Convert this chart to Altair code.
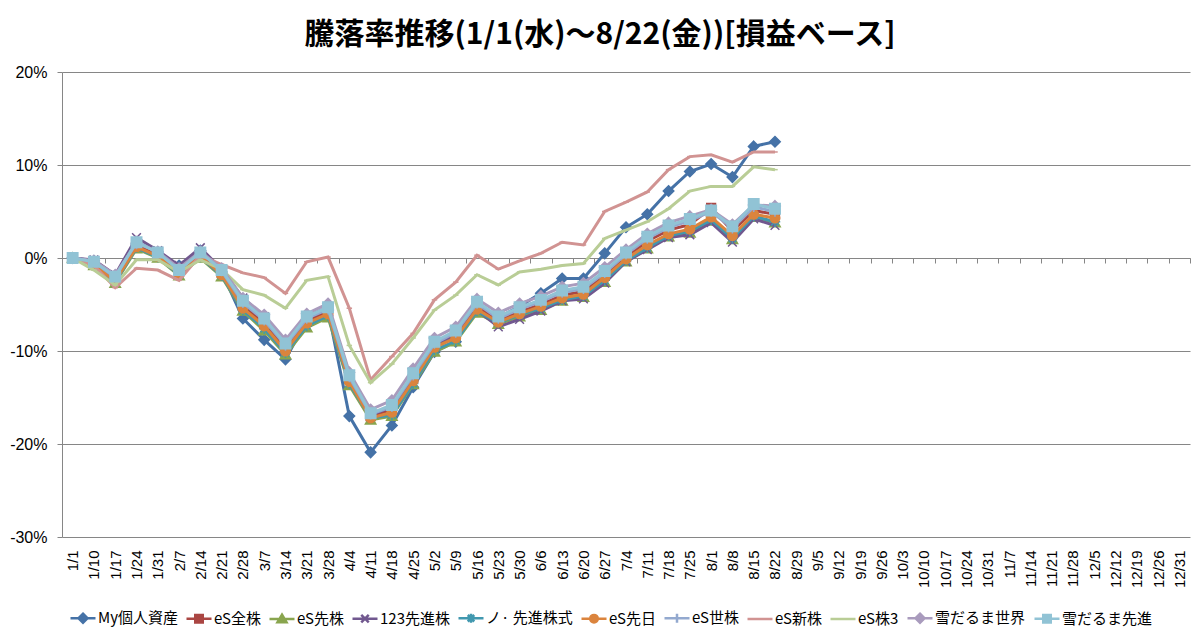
import pandas as pd
import altair as alt

# weekly category labels (Excel category axis, 1/1 .. 12/31)
dates = ["1/1", "1/10", "1/17", "1/24", "1/31", "2/7", "2/14", "2/21", "2/28",
         "3/7", "3/14", "3/21", "3/28", "4/4", "4/11", "4/18", "4/25", "5/2",
         "5/9", "5/16", "5/23", "5/30", "6/6", "6/13", "6/20", "6/27", "7/4",
         "7/11", "7/18", "7/25", "8/1", "8/8", "8/15", "8/22", "8/29", "9/5",
         "9/12", "9/19", "9/26", "10/3", "10/10", "10/17", "10/24", "10/31",
         "11/7", "11/14", "11/21", "11/28", "12/5", "12/12", "12/19", "12/26", "12/31"]

names = ["My個人資産", "eS全株", "eS先株", "123先進株", "ノ· 先進株式", "eS先日",
         "eS世株", "eS新株", "eS株3", "雪だるま世界", "雪だるま先進"]

colors = ["#4572A7", "#AA4643", "#89A54E", "#71588F", "#4198AF", "#DB843D",
          "#93A9CF", "#D19392", "#B9CD96", "#A99BBD", "#91C3D5"]

# 騰落率 (%), 1/1 .. 8/22
my_assets = [0, -0.3, -2.2, 1.5, 0.5, -0.8, 0.8, -1.5, -6.5, -8.8, -10.9, -6.7, -5.6, -17.0,
             -20.9, -18.0, -13.9, -10.1, -9.0, -5.0, -6.4, -5.2, -3.8, -2.2, -2.2, 0.5, 3.3,
             4.7, 7.2, 9.3, 10.1, 8.7, 12.0, 12.5]
es_all = [0, -0.6, -2.3, 1.4, 0.4, -1.5, 0.4, -1.6, -5.1, -7.0, -9.7, -6.8, -5.8, -13.0,
          -17.0, -16.3, -12.9, -9.4, -8.3, -5.2, -6.7, -5.8, -5.0, -4.0, -3.6, -1.9, 0.1,
          1.8, 3.0, 3.6, 5.4, 2.9, 5.1, 4.7]
es_adv = [0, -0.8, -2.7, 1.0, 0.0, -1.9, 0.0, -2.0, -5.7, -7.8, -10.4, -7.5, -6.4, -13.7,
          -17.4, -17.0, -13.6, -10.1, -9.0, -5.9, -7.1, -6.3, -5.6, -4.6, -4.2, -2.6, -0.4,
          1.0, 2.3, 2.7, 4.0, 2.0, 4.4, 3.8]
adv_123 = [0, -0.2, -1.8, 2.2, 0.8, -0.8, 1.1, -1.2, -4.3, -6.3, -9.0, -6.3, -5.3, -12.9,
           -16.9, -16.0, -12.8, -9.2, -8.5, -5.6, -7.4, -6.6, -5.7, -4.6, -4.4, -2.7, -0.4,
           0.9, 2.2, 2.5, 3.8, 1.7, 4.2, 3.5]
no_adv = [0, -0.7, -2.6, 1.1, 0.1, -1.8, 0.1, -1.9, -5.6, -7.6, -10.2, -7.3, -6.2, -13.5,
          -17.2, -16.9, -13.5, -9.9, -8.9, -5.7, -7.0, -6.1, -5.4, -4.5, -4.1, -2.4, -0.3,
          1.1, 2.4, 2.9, 4.1, 2.1, 4.5, 3.9]
es_adv_day = [0, -0.7, -2.5, 1.2, 0.2, -1.7, 0.2, -1.8, -5.4, -7.3, -10.0, -7.0, -6.0, -13.3,
              -17.2, -16.6, -13.2, -9.6, -8.6, -5.5, -6.9, -6.0, -5.2, -4.3, -3.9, -2.1, -0.1,
              1.4, 2.6, 3.1, 4.4, 2.4, 4.7, 4.3]
es_world = [0, -0.4, -2.1, 1.8, 0.6, -1.3, 0.7, -1.4, -4.8, -6.7, -9.4, -6.5, -5.5, -12.8,
            -16.8, -16.0, -12.6, -9.2, -8.0, -4.9, -6.5, -5.5, -4.7, -3.7, -3.3, -1.6, 0.4,
            2.1, 3.3, 4.0, 5.0, 3.2, 5.5, 5.0]
es_emerging = [0, -0.8, -3.2, -1.1, -1.3, -2.4, 0.3, -0.7, -1.6, -2.1, -3.8, -0.4, 0.1, -5.4,
               -13.1, -10.6, -8.1, -4.5, -2.6, 0.3, -1.2, -0.3, 0.5, 1.7, 1.4, 5.0, 6.0,
               7.1, 9.5, 10.9, 11.1, 10.3, 11.4, 11.4]
es_3 = [0, -1.3, -2.9, -0.2, -0.2, -1.5, -0.2, -1.2, -3.4, -4.0, -5.4, -2.4, -2.0, -9.4,
        -13.4, -11.4, -8.6, -5.6, -4.0, -1.8, -2.9, -1.5, -1.2, -0.8, -0.6, 2.1, 3.0,
        3.9, 5.3, 7.2, 7.7, 7.7, 9.8, 9.5]
snow_world = [0, -0.3, -1.8, 1.6, 0.7, -1.1, 0.7, -1.1, -4.3, -6.1, -8.8, -6.0, -4.9, -12.3,
              -16.3, -15.3, -11.9, -8.6, -7.4, -4.4, -5.9, -4.9, -4.1, -3.1, -2.7, -1.0, 0.9,
              2.6, 3.8, 4.5, 5.2, 3.6, 5.7, 5.6]
snow_adv = [0, -0.4, -2.0, 1.7, 0.6, -1.3, 0.6, -1.3, -4.6, -6.5, -9.2, -6.3, -5.3, -12.6,
            -16.7, -15.8, -12.4, -9.0, -7.8, -4.7, -6.3, -5.3, -4.5, -3.5, -3.1, -1.4, 0.6,
            2.3, 3.5, 4.2, 5.1, 3.4, 5.8, 5.3]

series_values = [my_assets, es_all, es_adv, adv_123, no_adv, es_adv_day,
                 es_world, es_emerging, es_3, snow_world, snow_adv]

# marker shapes (path in -1..1 units) and sizes
DIAMOND = "M0,-1L1,0L0,1L-1,0Z"
SQUARE = "M-0.8,-0.8L0.8,-0.8L0.8,0.8L-0.8,0.8Z"
TRIANGLE = "M0,-0.9L0.95,0.75L-0.95,0.75Z"
XMARK = "M-0.8,-0.8L0.8,0.8M-0.8,0.8L0.8,-0.8"
ASTER = "M-1,0L1,0M0,-1L0,1M-0.7,-0.7L0.7,0.7M-0.7,0.7L0.7,-0.7"
PLUS = "M-1,0L1,0M0,-1L0,1"
DASH = "M-1,0L1,0"
markers = [(DIAMOND, 110), (SQUARE, 120), (TRIANGLE, 120), (XMARK, 120), (ASTER, 110),
           ("circle", 90), (PLUS, 110), (DASH, 30), (DASH, 30), (DIAMOND, 110), (SQUARE, 170)]

# legend symbols: line with the marker in its middle
legend_paths = [
    "M-1,0L1,0M0,-0.36L0.36,0L0,0.36L-0.36,0Z",
    "M-1,0L1,0M-0.3,-0.3L0.3,-0.3L0.3,0.3L-0.3,0.3Z",
    "M-1,0L1,0M0,-0.34L0.36,0.26L-0.36,0.26Z",
    "M-1,0L1,0M-0.3,-0.3L0.3,0.3M-0.3,0.3L0.3,-0.3",
    "M-1,0L1,0M0,-0.36L0,0.36M-0.26,-0.26L0.26,0.26M-0.26,0.26L0.26,-0.26",
    "M-1,0L1,0M-0.3,0A0.3,0.3 0 1,0 0.3,0A0.3,0.3 0 1,0 -0.3,0",
    "M-1,0L1,0M0,-0.36L0,0.36",
    "M-1,0L1,0",
    "M-1,0L1,0",
    "M-1,0L1,0M0,-0.36L0.36,0L0,0.36L-0.36,0Z",
    "M-1,0L1,0M-0.3,-0.3L0.3,-0.3L0.3,0.3L-0.3,0.3Z",
]

rows = []
for name, vals in zip(names, series_values):
    for d, v in zip(dates, vals):
        rows.append({"日付": d, "系列": name, "騰落率": v})
df = pd.DataFrame(rows)

GRAY = "#868686"
LABEL_FONT = "Liberation Sans"
JP_FONT = "Noto Sans CJK JP"

x_enc = alt.X(
    "日付:N", sort=dates, title=None,
    scale=alt.Scale(type="band", domain=dates, paddingInner=0, paddingOuter=0),
    axis=alt.Axis(offset=-279, tickBand="extent", tickSize=5, tickColor=GRAY,
                  domainColor=GRAY, grid=False, labelAngle=270, labelAlign="right",
                  labelBaseline="middle", labelPadding=287, labelFontSize=15,
                  labelFont=LABEL_FONT, labelColor="black"),
)
y_enc = alt.Y(
    "騰落率:Q", title=None,
    scale=alt.Scale(domain=[-30, 20], nice=False, zero=False),
    axis=alt.Axis(values=[-30, -20, -10, 0, 10, 20], labelExpr="datum.value + '%'",
                  grid=True, gridColor=GRAY, domainColor=GRAY, tickColor=GRAY,
                  tickSize=5, labelPadding=10, labelFontSize=16, labelFont=LABEL_FONT,
                  labelColor="black"),
)

legend = alt.Legend(orient="none", legendX=7, legendY=532, direction="horizontal",
                    columns=11, symbolSize=625, symbolStrokeWidth=2.5, symbolOpacity=1,
                    labelFontSize=15, labelFont=JP_FONT, labelColor="black",
                    labelOffset=1, columnPadding=3)

# invisible layer that only carries the legend
legend_layer = alt.Chart(df).mark_point(opacity=0, filled=True).encode(
    x=x_enc, y=y_enc,
    fill=alt.Fill("系列:N", title=None, sort=names,
                  scale=alt.Scale(domain=names, range=colors), legend=legend),
    stroke=alt.Stroke("系列:N", title=None, sort=names,
                      scale=alt.Scale(domain=names, range=colors), legend=legend),
    shape=alt.Shape("系列:N", title=None, sort=names,
                    scale=alt.Scale(domain=names, range=legend_paths), legend=legend),
)

layers = [legend_layer]
for name, color, (shape, size) in zip(names, colors, markers):
    base = alt.Chart(df[df["系列"] == name])
    line = base.mark_line(color=color, strokeWidth=3).encode(x=x_enc, y=y_enc)
    pts = base.mark_point(shape=shape, size=size, filled=True, fill=color, stroke=color,
                          strokeWidth=1.5, opacity=1).encode(x=x_enc, y=y_enc)
    layers += [line, pts]

chart = alt.layer(*layers).resolve_scale(
    fill="independent", stroke="independent", shape="independent"
).properties(
    width=1128, height=465,
    autosize=alt.AutoSizeParams(type="none"),
    padding={"left": 54, "top": 64, "right": 2, "bottom": 92},
    title=alt.Title("騰落率推移(1/1(水)～8/22(金))[損益ベース]", font=JP_FONT,
                    fontSize=30, fontWeight="bold", color="black", anchor="middle",
                    dx=-26, offset=14),
).configure_view(strokeWidth=0)

chart.save("out.html", embed_options={"renderer": "svg", "actions": False})
